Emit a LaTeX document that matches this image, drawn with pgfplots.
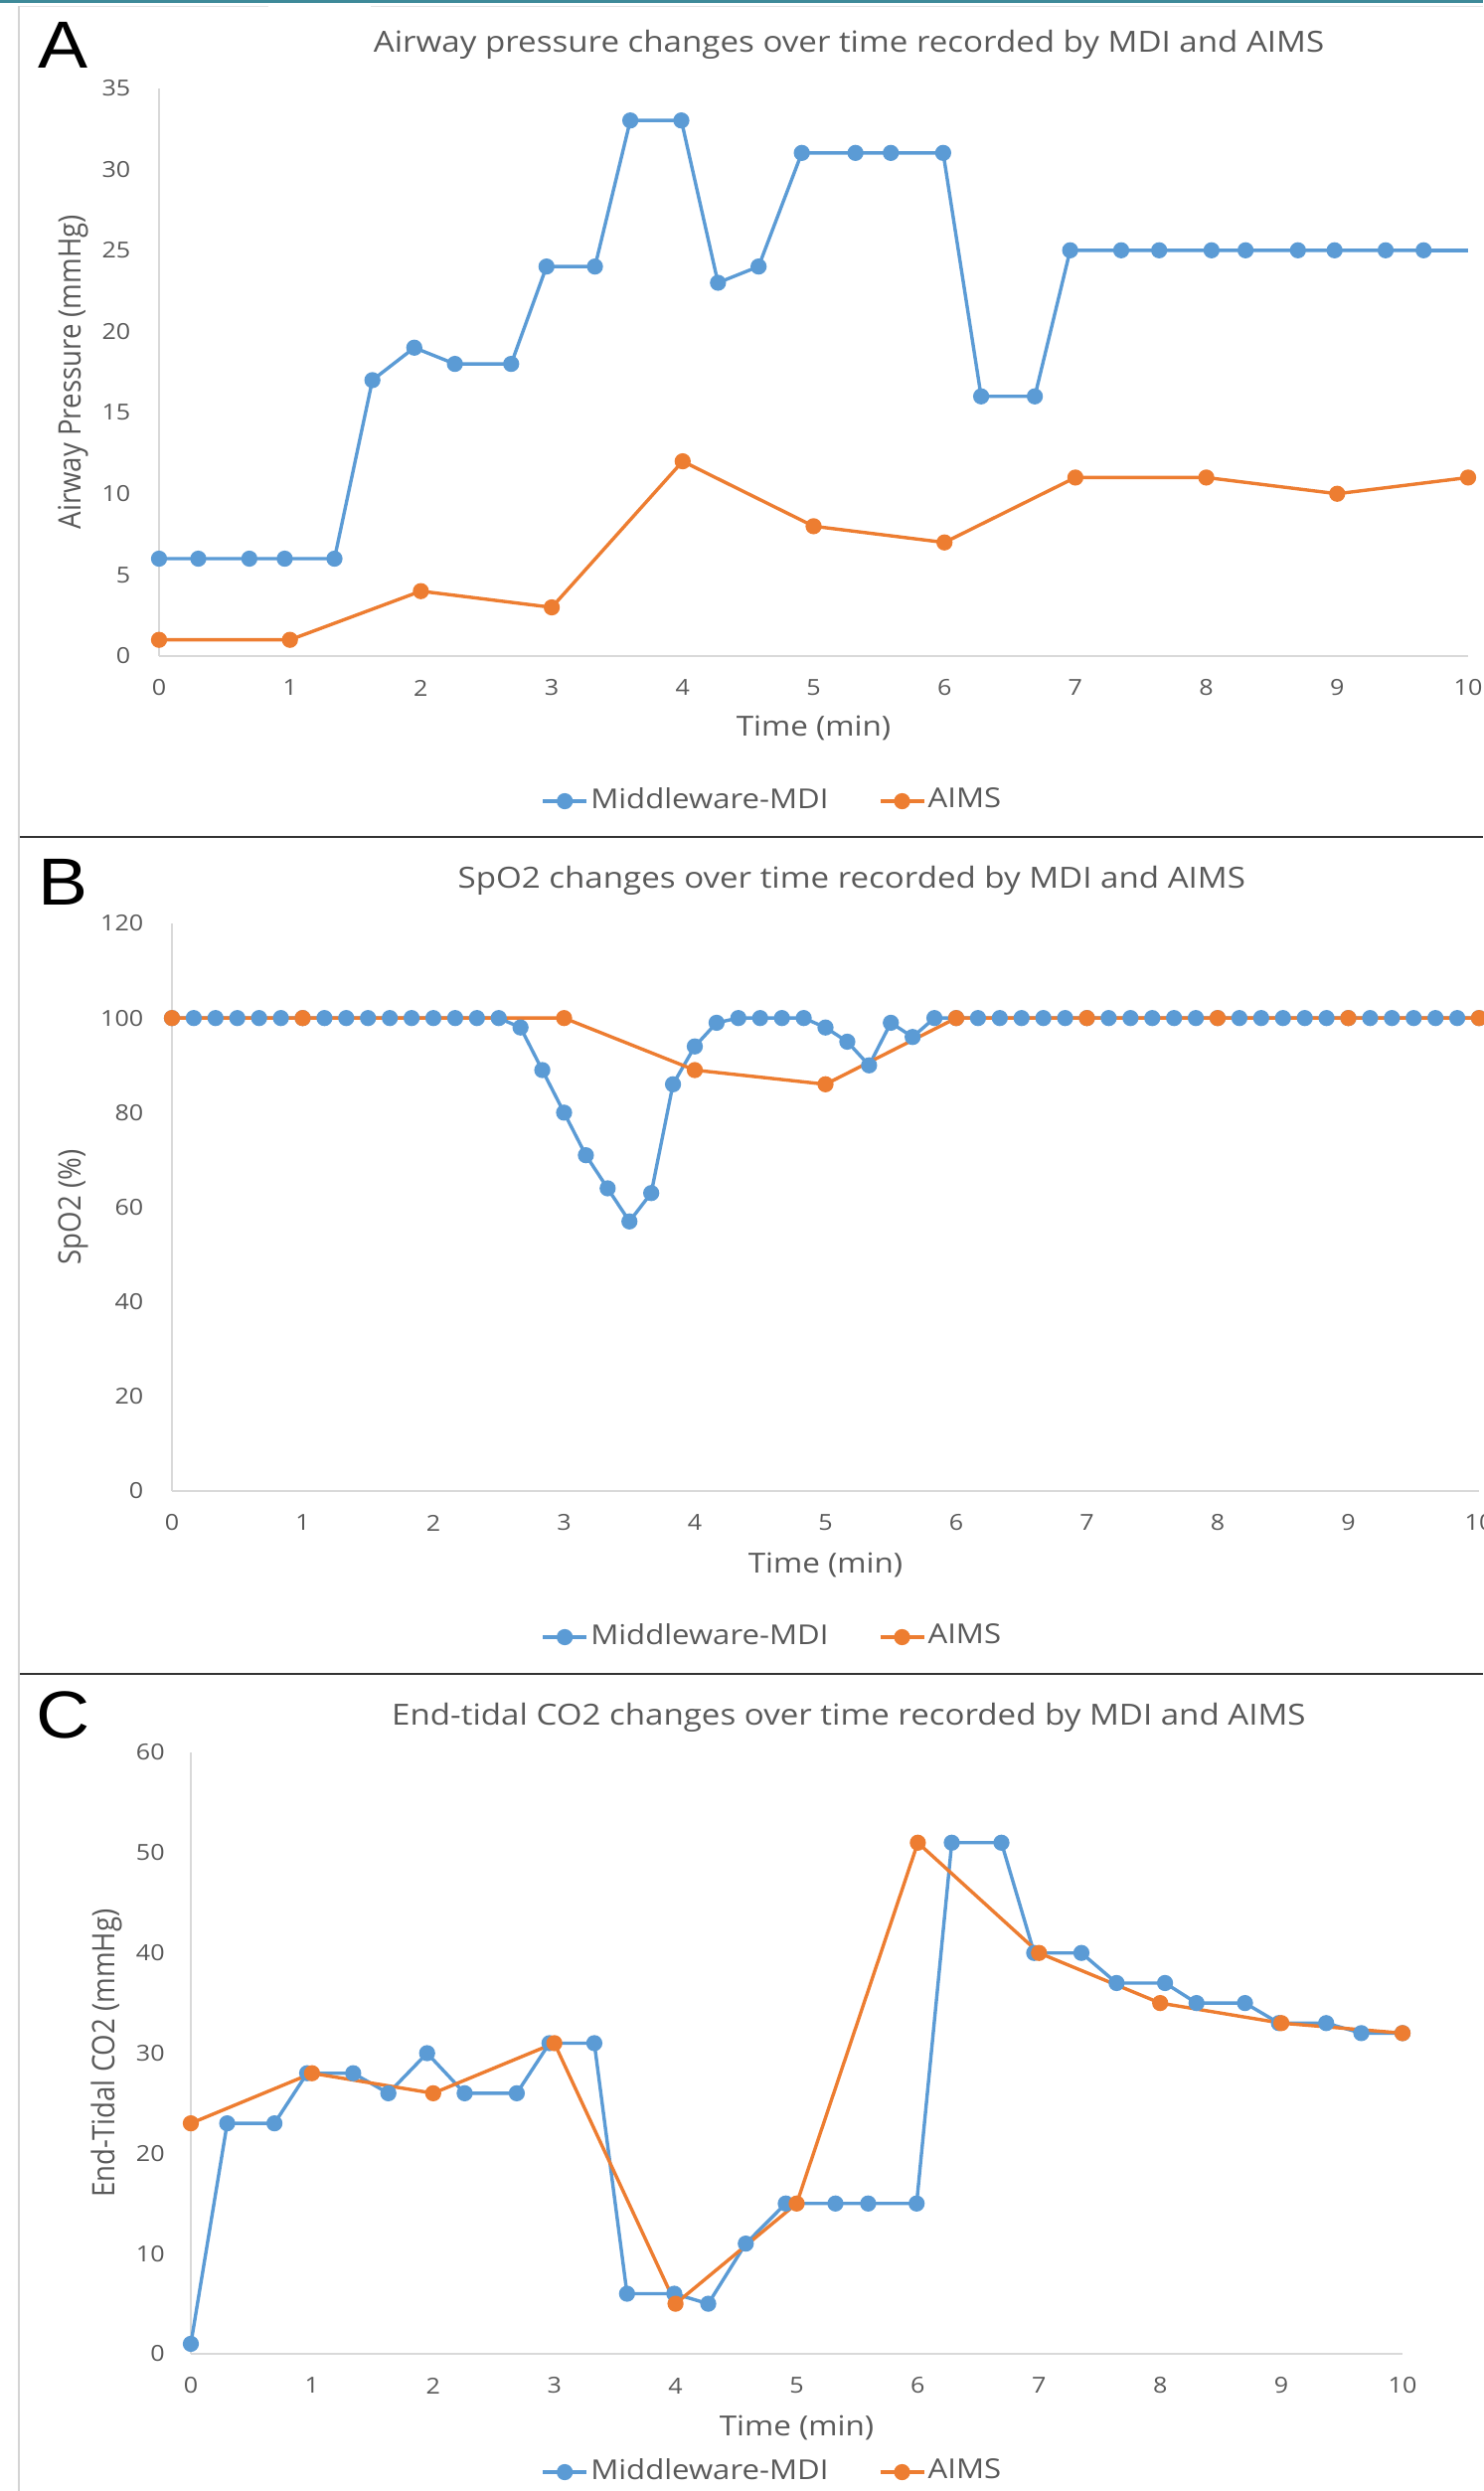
\documentclass[border=0pt]{standalone}
\usepackage{fontspec}
\setmainfont{Open Sans}[FakeStretch=1.13]
\newfontfamily\vfont{Open Sans}[FakeStretch=0.885]
\newfontfamily\letterfont{Liberation Sans}[FakeStretch=1.12]
\usepackage{pgfplots}
\pgfplotsset{compat=1.18}
\usepackage{pgfplotstable}

\definecolor{mdiblue}{HTML}{5B9BD5}
\definecolor{aimsorange}{HTML}{ED7D31}
\definecolor{txtgray}{HTML}{595959}
\definecolor{axgray}{HTML}{D9D9D9}
\definecolor{topteal}{HTML}{3E8A99}
\definecolor{framegray}{HTML}{D4D4D4}

% panel A: airway pressure
\pgfplotstableread{
t p
0 6
0.30 6
0.69 6
0.96 6
1.34 6
1.63 17
1.95 19
2.26 18
2.69 18
2.96 24
3.33 24
3.60 33
3.99 33
4.27 23
4.58 24
4.91 31
5.32 31
5.59 31
5.99 31
6.28 16
6.69 16
6.96 25
7.35 25
7.64 25
8.04 25
8.30 25
8.70 25
8.98 25
9.37 25
9.66 25
}\mdiA
\pgfplotstableread{
t p
0 1
1 1
2 4
3 3
4 12
5 8
6 7
7 11
8 11
9 10
10 11
}\aimsA

% panel B: SpO2
\pgfplotstableread{
t s
0 100
0.1667 100
0.3333 100
0.5 100
0.6667 100
0.8333 100
1 100
1.1667 100
1.3333 100
1.5 100
1.6667 100
1.8333 100
2 100
2.1667 100
2.3333 100
2.5 100
2.6667 98
2.8333 89
3 80
3.1667 71
3.3333 64
3.5 57
3.6667 63
3.8333 86
4 94
4.1667 99
4.3333 100
4.5 100
4.6667 100
4.8333 100
5 98
5.1667 95
5.3333 90
5.5 99
5.6667 96
5.8333 100
6 100
6.1667 100
6.3333 100
6.5 100
6.6667 100
6.8333 100
7 100
7.1667 100
7.3333 100
7.5 100
7.6667 100
7.8333 100
8 100
8.1667 100
8.3333 100
8.5 100
8.6667 100
8.8333 100
9 100
9.1667 100
9.3333 100
9.5 100
9.6667 100
9.8333 100
10 100
}\mdiB
\pgfplotstableread{
t s
0 100
1 100
3 100
4 89
5 86
6 100
7 100
8 100
9 100
10 100
}\aimsB

% panel C: end-tidal CO2
\pgfplotstableread{
t c
0 1
0.30 23
0.69 23
0.96 28
1.34 28
1.63 26
1.95 30
2.26 26
2.69 26
2.96 31
3.33 31
3.60 6
3.99 6
4.27 5
4.58 11
4.91 15
5.32 15
5.59 15
5.99 15
6.28 51
6.69 51
6.96 40
7.35 40
7.64 37
8.04 37
8.30 35
8.70 35
8.98 33
9.37 33
9.66 32
10 32
}\mdiC
\pgfplotstableread{
t c
0 23
1 28
2 26
3 31
4 5
5 15
6 51
7 40
8 35
9 33
10 32
}\aimsC

\pgfplotsset{
  panel/.style={
    scale only axis, clip=false,
    axis x line*=bottom, axis y line*=left,
    axis line style={draw=axgray, line width=0.5pt},
    major tick length=0pt,
    xmin=0, xmax=10, xtick={0,1,...,10}, ymin=0,
    tick label style={font=\fontsize{5.55}{6.5}\selectfont, text=txtgray},
    /pgf/number format/assume math mode=true,
    yticklabel style={anchor=east, inner sep=0pt, xshift=-7pt},
    xticklabel style={anchor=center, inner sep=0pt, yshift=-8pt},
    every axis title shift=0pt,
    title style={font=\fontsize{7.32}{8.5}\selectfont, text=txtgray, anchor=base, inner sep=0pt},
    xlabel style={font=\fontsize{6.95}{8}\selectfont, text=txtgray, anchor=center, inner sep=0pt},
    ylabel style={font=\vfont\fontsize{7.8}{9}\selectfont, text=txtgray, anchor=center, inner sep=0pt},
    legend columns=2,
    legend style={draw=none, fill=none, anchor=center, inner sep=0pt,
      font=\fontsize{6.88}{8}\selectfont, text=txtgray,
      nodes={inner sep=0.6pt},
      /tikz/every even column/.append style={column sep=12pt}},
    legend image code/.code={\draw[mark repeat=2, mark phase=2] plot coordinates {(0pt,0pt) (5.5pt,0pt) (11pt,0pt)};},
  },
  mdi/.style={color=mdiblue, line width=0.85pt, mark=*, mark size=1.6pt, mark options={solid, fill=mdiblue}},
  aims/.style={color=aimsorange, line width=0.85pt, mark=*, mark size=1.6pt, mark options={solid, fill=aimsorange}},
}

\begin{document}
\begin{tikzpicture}

% frame lines
\fill[topteal] (0pt,0pt) rectangle (373pt,-0.8pt);
\draw[framegray!60, line width=0.3pt] (4.5pt,-1.6pt) -- (67.5pt,-1.6pt);
\draw[framegray!60, line width=0.3pt] (93.25pt,-1.6pt) -- (373pt,-1.6pt);
\draw[framegray, line width=0.4pt] (4.8pt,-1.6pt) -- (4.8pt,-626.5pt);
\draw[black!80, line width=0.7pt] (5pt,-210.5pt) -- (373pt,-210.5pt);
\draw[black!80, line width=0.7pt] (5pt,-421pt) -- (373pt,-421pt);

% panel letters
\node[font=\letterfont\fontsize{16.75}{18}\selectfont, anchor=base, inner sep=0pt] at (16pt,-17pt) {A};
\node[font=\letterfont\fontsize{16.75}{18}\selectfont, anchor=base, inner sep=0pt] at (16pt,-227.5pt) {B};
\node[font=\letterfont\fontsize{16.75}{18}\selectfont, anchor=base, inner sep=0pt] at (16pt,-437pt) {C};

% A
\begin{axis}[panel, at={(40pt,-165pt)}, anchor=south west,
  width=329.25pt, height=142.875pt, ymax=35, ytick={0,5,...,35},
  title={Airway pressure changes over time recorded by MDI and AIMS},
  title style={at={(axis description cs:0.527,1.0639)}},
  xlabel={Time (min)}, xlabel style={at={(axis description cs:0.5,-0.1277)}},
  ylabel={Airway Pressure (mmHg)}, ylabel style={at={(axis description cs:-0.0653,0.5)}},
  legend style={at={(axis description cs:0.4685,-0.2555)}}]
\addplot[mdi] table[x=t, y=p] {\mdiA};
\addlegendentry{Middleware-MDI}
\addplot[aims] table[x=t, y=p] {\aimsA};
\addlegendentry{AIMS}
\addplot[mdi, no markers, forget plot] coordinates {(9.66,25) (10,25)};
\end{axis}

% B
\begin{axis}[panel, at={(43.25pt,-375pt)}, anchor=south west,
  width=328.75pt, height=142.75pt, ymax=120, ytick={0,20,...,120},
  title={SpO2 changes over time recorded by MDI and AIMS},
  title style={at={(axis description cs:0.520,1.0630)}},
  xlabel={Time (min)}, xlabel style={at={(axis description cs:0.5,-0.1313)}},
  ylabel={SpO2 (\%)}, ylabel style={at={(axis description cs:-0.0753,0.5)}},
  legend style={at={(axis description cs:0.4593,-0.2574)}}]
\addplot[mdi] table[x=t, y=s] {\mdiB};
\addlegendentry{Middleware-MDI}
\addplot[aims] table[x=t, y=s] {\aimsB};
\addlegendentry{AIMS}
\end{axis}

% C
\begin{axis}[panel, at={(48pt,-592pt)}, anchor=south west,
  width=304.75pt, height=151.25pt, ymax=60, ytick={0,10,...,60},
  yticklabel style={xshift=0.6pt},
  title={End-tidal CO2 changes over time recorded by MDI and AIMS},
  title style={at={(axis description cs:0.543,1.0463)}},
  xlabel={Time (min)}, xlabel style={at={(axis description cs:0.5,-0.1223)}},
  ylabel={End-Tidal CO2 (mmHg)}, ylabel style={at={(axis description cs:-0.0697,0.5)}},
  legend style={at={(axis description cs:0.4799,-0.1967)}}]
\addplot[mdi] table[x=t, y=c] {\mdiC};
\addlegendentry{Middleware-MDI}
\addplot[aims] table[x=t, y=c] {\aimsC};
\addlegendentry{AIMS}
\end{axis}

\pgfresetboundingbox
\path[use as bounding box] (0pt,0pt) rectangle (373pt,-626.5pt);
\end{tikzpicture}
\end{document}
